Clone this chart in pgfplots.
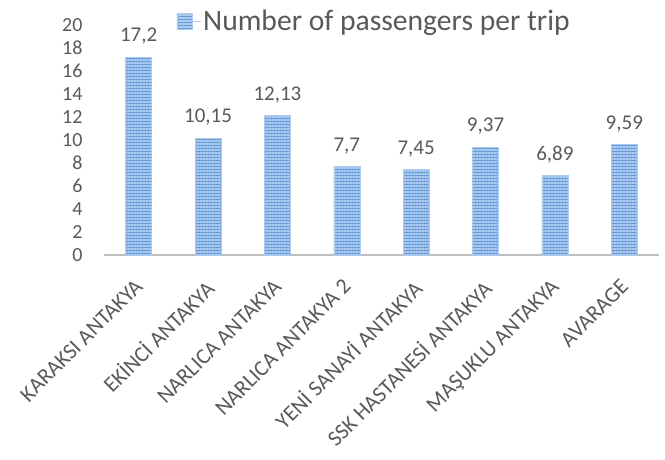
\documentclass[border=0pt]{standalone}
\usepackage{fontspec}
\setmainfont{Carlito}
\usepackage{pgfplots}
\pgfplotsset{compat=1.18}
\usetikzlibrary{patterns.meta}
\definecolor{txt}{RGB}{89,89,89}
\definecolor{barblue}{RGB}{104,157,219}
\definecolor{barlight}{RGB}{172,203,238}
\definecolor{axgray}{RGB}{191,191,191}
\begin{document}
\begin{tikzpicture}[x=1pt,y=1pt]
\path (-104,-204) rectangle (561,255);
\begin{axis}[
  at={(0,0)}, anchor=south west,
  scale only axis, width=555pt, height=230pt,
  xmin=-0.5, xmax=7.5, ymin=0, ymax=20,
  ybar, bar width=26pt,
  axis x line*=bottom, axis y line*=left,
  y axis line style={draw=none},
  x axis line style={axgray, line width=1.5pt, -},
  major tick length=0pt,
  ytick={0,2,...,20},
  xtick={0,...,7},
  xticklabels={KARAKSI ANTAKYA, EKİNCİ ANTAKYA, NARLICA ANTAKYA, NARLICA ANTAKYA 2, YENİ SANAYİ ANTAKYA, SSK HASTANESİ ANTAKYA, MAŞUKLU ANTAKYA, AVARAGE},
  /pgf/number format/assume math mode=true,
  yticklabel style={font=\fontsize{20}{22}\selectfont, text=txt, xshift=-18pt},
  xticklabel style={font=\fontsize{22}{24}\selectfont, text=txt, xshift=-5pt, yshift=-18pt, rotate=45, anchor=north east},
  nodes near coords,
  nodes near coords style={font=\fontsize{21}{23}\selectfont, text=txt, yshift=9pt, /pgf/number format/use comma, /pgf/number format/precision=2},
  legend style={draw=none, fill=none, at={(0.125,1.017)}, anchor=west, font=\fontsize{29.6}{32}\selectfont, text=txt},
  legend image code/.code={\fill[barblue] (0pt,-8pt) rectangle (15pt,8pt);
     \fill[pattern={Lines[angle=0, distance=3pt, line width=1.3pt]}, pattern color=barlight] (0pt,-8pt) rectangle (15pt,8pt);
     \path (0pt,0pt) -- (24pt,0pt);},
]
\addplot[draw=barlight, line width=0.6pt, fill=barblue, postaction={pattern={Lines[angle=0, distance=3pt, line width=1.3pt]}, pattern color=barlight}]
  coordinates {(0,17.2) (1,10.15) (2,12.13) (3,7.7) (4,7.45) (5,9.37) (6,6.89) (7,9.59)};
\addlegendentry{Number of passengers per trip}
\end{axis}
\end{tikzpicture}
\end{document}
